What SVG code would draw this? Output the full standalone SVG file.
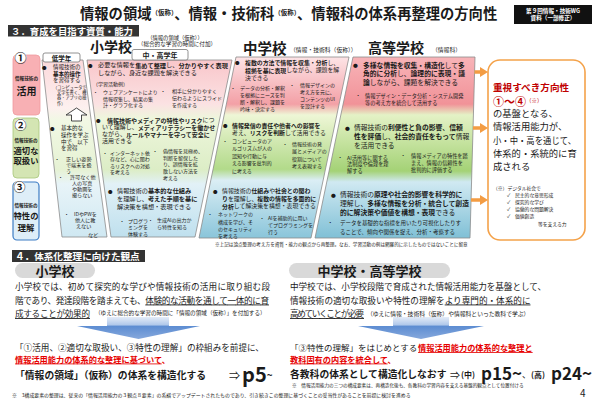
<svg xmlns="http://www.w3.org/2000/svg" width="600" height="400" viewBox="0 0 600 400">
<defs>
<style>
text{font-family:"Noto Sans CJK JP","Noto Sans",sans-serif;dominant-baseline:central;fill:#1a1a1a}
.b{font-weight:700}
.r{fill:#e60000}
.dr{fill:#c00000}
.w{fill:#fff}
.u{text-decoration:underline}
.m{text-anchor:middle}
.col{stroke:#8c8c8c;stroke-width:0.8}
.tab{fill:#fff;stroke:#777;stroke-width:0.8}
.oarr{fill:#f39c43}
.barr{fill:url(#gArrow)}
.pill{fill:#d9d9d9}
.band{fill:#333}
</style>
<linearGradient id="gLow" gradientUnits="userSpaceOnUse" x1="0" y1="60" x2="0" y2="237">
<stop offset="0" stop-color="#fbd9db"/><stop offset="0.27" stop-color="#fdf0ef"/><stop offset="0.34" stop-color="#f1f8e4"/><stop offset="0.62" stop-color="#e6f2d4"/><stop offset="0.70" stop-color="#e8f4f8"/><stop offset="1" stop-color="#cfe8f2"/>
</linearGradient>
<linearGradient id="gMid" gradientUnits="userSpaceOnUse" x1="0" y1="60" x2="0" y2="237">
<stop offset="0" stop-color="#f9c6ca"/><stop offset="0.25" stop-color="#fbe2e3"/><stop offset="0.33" stop-color="#eef6dc"/><stop offset="0.62" stop-color="#dcedc6"/><stop offset="0.70" stop-color="#e2f1f7"/><stop offset="1" stop-color="#bfe0ee"/>
</linearGradient>
<linearGradient id="gJ" gradientUnits="userSpaceOnUse" x1="0" y1="57" x2="0" y2="238">
<stop offset="0" stop-color="#fde4e6"/><stop offset="0.26" stop-color="#f3a0a6"/><stop offset="0.32" stop-color="#eef6d6"/><stop offset="0.62" stop-color="#b2da8a"/><stop offset="0.68" stop-color="#dbeef5"/><stop offset="1" stop-color="#8ac5da"/>
</linearGradient>
<linearGradient id="gH" gradientUnits="userSpaceOnUse" x1="0" y1="57" x2="0" y2="238">
<stop offset="0" stop-color="#f8b4b8"/><stop offset="0.26" stop-color="#f19298"/><stop offset="0.32" stop-color="#e4f2c6"/><stop offset="0.63" stop-color="#a4d276"/><stop offset="0.69" stop-color="#d0e9f2"/><stop offset="1" stop-color="#80c0d6"/>
</linearGradient>
<linearGradient id="gArrow" x1="0" y1="0" x2="0" y2="1">
<stop offset="0" stop-color="#e4ecf8"/><stop offset="0.36" stop-color="#b0c8ea"/><stop offset="0.42" stop-color="#5d8dd2"/><stop offset="1" stop-color="#86a8dc"/>
</linearGradient>
</defs>
<rect width="600" height="400" fill="#fff"/>

<g id="title">
<text x="80" y="12" class="b" font-size="14.3">情報の領域<tspan font-size="6.5">（仮称）</tspan>、情報・技術科<tspan font-size="6.5">（仮称）</tspan>、情報科の体系再整理の方向性</text>
<rect x="514" y="5" width="78" height="19" fill="#111"/>
<text x="553" y="10.5" class="b w m" font-size="5.6">第９回情報・技術WG</text>
<text x="553" y="18" class="b w m" font-size="5.6">資料（一部修正）</text>
</g>

<g id="sec3">
<rect x="8" y="25" width="131" height="11.5" class="band"/>
<text x="11" y="30.8" class="b w" font-size="9.4">３．育成を目指す資質・能力</text>
<text x="90" y="45.5" class="b" font-size="14">小学校</text>
<text x="175" y="38" class="m" font-size="5.3">（情報の領域（仮称））</text>
<text x="177" y="44.3" class="m" font-size="5.6">（総合的な学習の時間に付加）</text>
<text x="243" y="47" class="b" font-size="14.5">中学校</text>
<text x="290" y="49" font-size="5.8">（情報・技術科（仮称））</text>
<text x="368" y="46.5" class="b" font-size="14">高等学校</text>
<text x="432" y="49" font-size="5.8">（情報科）</text>
</g>

<g id="box-katsuyo">
<rect x="13" y="55" width="27" height="60" rx="4" fill="#f8b0b4" stroke="#ef9aa0" stroke-width="0.8"/>
<circle cx="20.5" cy="57" r="6" fill="#fff"/>
<text x="20.5" y="57" class="b m" font-size="12">①</text>
<text x="26.5" y="78" class="b m" font-size="4.6">情報技術の</text>
<text x="26.5" y="90" class="b m" font-size="10">活用</text>
</g>
<g id="box-toriatsukai">
<rect x="13" y="118" width="26" height="60" rx="4" fill="#d4e5b3" stroke="#a8c67c" stroke-width="0.8"/>
<circle cx="20.5" cy="124.5" r="6" fill="#fff"/>
<text x="20.5" y="124.5" class="b m" font-size="12">②</text>
<text x="26" y="140" class="b m" font-size="4.6">情報技術の</text>
<text x="26" y="150" class="b m" font-size="8.3">適切な</text>
<text x="26" y="160" class="b m" font-size="8.3">取扱い</text>
</g>
<g id="box-rikai">
<rect x="13" y="182" width="26" height="58" rx="4" fill="#deeef8" stroke="#3c7cc4" stroke-width="1.2"/>
<circle cx="19.5" cy="186.5" r="6" fill="#fff"/>
<text x="19.5" y="186.5" class="b m" font-size="12">③</text>
<text x="26" y="205" class="b m" font-size="4.6">情報技術の</text>
<text x="26" y="215" class="b m" font-size="8.3">特性の</text>
<text x="26" y="227" class="b m" font-size="8.3">理解</text>
</g>

<g id="col-low" font-size="5.5">
<polygon class="col" points="42,60 83,60 107,237 62,237" fill="url(#gLow)"/>
<rect class="tab" x="43" y="53" width="37" height="9" rx="2"/>
<text x="61.5" y="57.5" class="b m" font-size="6.5">低学年</text>
<text x="42" y="67" font-size="4.5">●</text>
<text x="53" y="67">情報技術の</text>
<text x="53" y="73.5" class="b">基本的操作</text>
<text x="53" y="80">を習得する</text>
<text x="53" y="87" font-size="4.2">（コンピュータで</text>
<text x="57" y="92" font-size="4.2">文字を書く、機</text>
<text x="57" y="97" font-size="4.2">器・アプリの操</text>
<text x="57" y="102.5" font-size="4.2">作）</text>
<text x="50" y="128" font-size="4.5">●</text>
<text x="61" y="128">基本的な</text>
<text x="61" y="135">操作を学ぶ</text>
<text x="61" y="141.5">中で、以下</text>
<text x="61" y="148">を習得</text>
<g font-size="5.1">
<text x="54.5" y="158">・</text>
<text x="66" y="158">正しい姿勢</text>
<text x="66" y="164">で端末を扱</text>
<text x="66" y="170">う</text>
<text x="58" y="176">・</text>
<text x="70" y="176">許可なく他</text>
<text x="72" y="182">人の写真</text>
<text x="72" y="188">や動画を</text>
<text x="72" y="194">撮らない</text>
<text x="64" y="213">・</text>
<text x="74" y="213">IDやPWを</text>
<text x="75" y="219">他人に教</text>
<text x="76" y="225">えない</text>
<text x="88" y="234.5">など</text>
</g>
</g>

<g id="col-midhigh" font-size="6.2">
<polygon class="col" points="87,60 232,60 195,237 111,237" fill="url(#gMid)"/>
<rect class="tab" x="132" y="49.5" width="56" height="10.5" rx="2"/>
<text x="160" y="54.8" class="b m" font-size="7">中・高学年</text>
<text x="88" y="64.5" font-size="4.5">●</text>
<text x="98" y="64.5">必要な情報を<tspan class="b">集めて整理</tspan>し、<tspan class="b">分かりやすく表現</tspan></text>
<text x="98" y="72">しながら、身近な課題を解決できる</text>
<g font-size="5">
<text x="93" y="83">（学習活動例）</text>
<text x="93" y="91.5">・</text>
<text x="103" y="91.5">ウェブアンケートにより</text>
<text x="103" y="98">情報収集し、結果の集</text>
<text x="103" y="104.5">計・グラフ化する</text>
<text x="160.5" y="90">・</text>
<text x="172" y="90">相手に分かりやすく</text>
<text x="172" y="97">伝わるようにスライド</text>
<text x="172" y="104">を作成する</text>
</g>
<g font-size="6">
<text x="96" y="119.5" font-size="4.5">●</text>
<text x="107" y="119.5"><tspan class="b">情報技術やメディアの特性やリスク</tspan>につ</text>
<text x="102" y="126.5">いて理解し、<tspan class="b">メディアリテラシーを働かせ</tspan></text>
<text x="102" y="133.5">ながら、<tspan class="b">ルールやマナーを守って安全に</tspan></text>
<text x="102" y="140.5">活用できる</text>
</g>
<g font-size="5">
<text x="102.5" y="152">・</text>
<text x="110" y="152">インターネット依</text>
<text x="110" y="158.5">存など、心に関わ</text>
<text x="110" y="165">るリスクへの対処</text>
<text x="110" y="171.5">を考える</text>
<text x="152.5" y="150">・</text>
<text x="163" y="150">偽情報を見極め、</text>
<text x="163" y="157">判断を留保した</text>
<text x="163" y="163.5">り、誤情報を拡</text>
<text x="163" y="170">散しない方法を</text>
<text x="163" y="177">考える</text>
</g>
<text x="108" y="190.5" font-size="4.5">●</text>
<text x="117" y="190">情報技術の<tspan class="b">基本的な仕組み</tspan></text>
<text x="117" y="198">を理解し、<tspan class="b">考えた手順を基に</tspan></text>
<text x="117" y="206">解決策を構想・表現できる</text>
<g font-size="5">
<text x="119.5" y="220">・</text>
<text x="128" y="220">プログラ</text>
<text x="128" y="226.5">ミングを</text>
<text x="128" y="233">体験する</text>
<text x="148" y="219">・</text>
<text x="157" y="219.5">生成AIの出力か</text>
<text x="157" y="226.5">ら特性を知る</text>
</g>
</g>

<g id="col-jhs" font-size="5.9">
<polygon class="col" points="236,57 349,57 311,238 199,238" fill="url(#gJ)"/>
<text x="235" y="62" font-size="4.5">●</text>
<text x="245" y="62"><tspan class="b">複数の方法で情報を収集・分析</tspan>し、</text>
<text x="245" y="69.5"><tspan class="b">根拠を基に表現</tspan>しながら、課題を解</text>
<text x="245" y="77">決できる</text>
<g font-size="5">
<text x="230.5" y="87">・</text>
<text x="240" y="87">データの分析・解釈</text>
<text x="240" y="94">を根拠にニーズを判</text>
<text x="240" y="101">断・解釈し、課題を</text>
<text x="240" y="108">吟味・決定する</text>
<text x="289.5" y="84">・</text>
<text x="300" y="84">情報デザインの</text>
<text x="300" y="91">考え方を元に、</text>
<text x="300" y="98">コンテンツのUI</text>
<text x="300" y="105">を設計する</text>
</g>
<text x="223" y="125" font-size="4.5">●</text>
<text x="232" y="125" class="b">情報発信の責任や他者への影響を</text>
<text x="232" y="132">考え、<tspan class="b">リスクを判断</tspan>して活用できる</text>
<g font-size="5">
<text x="222.5" y="140">・</text>
<text x="232" y="140">コンピュータのア</text>
<text x="232" y="147.5">ルゴリズムが人の</text>
<text x="232" y="155">認知や行動に与</text>
<text x="232" y="162.5">える影響を批判的</text>
<text x="232" y="170">に考える</text>
<text x="282.5" y="143">・</text>
<text x="292" y="143">情報技術の発</text>
<text x="292" y="150.5">展とメディアの</text>
<text x="292" y="158">役割について</text>
<text x="292" y="165">考え表現する</text>
</g>
<text x="213" y="190.5" font-size="4.5">●</text>
<text x="222" y="190">情報技術の<tspan class="b">仕組み</tspan>や<tspan class="b">社会との関わ</tspan></text>
<text x="222" y="198"><tspan class="b">り</tspan>を理解し、<tspan class="b">複数の情報を多面的に</tspan></text>
<text x="222" y="205.5"><tspan class="b">分析</tspan>して解決策を構想・表現できる</text>
<g font-size="5">
<text x="207.5" y="213.5">・</text>
<text x="218" y="213.5">ネットワークの</text>
<text x="218" y="221">構成を学び、そ</text>
<text x="218" y="228">のセキュリティ</text>
<text x="218" y="235">を考える</text>
<text x="259.5" y="217">・</text>
<text x="268" y="217">AIを補助的に用い</text>
<text x="268" y="224">てプログラミングを</text>
<text x="268" y="231">行う</text>
</g>
</g>

<g id="col-hs" font-size="6.8">
<polygon class="col" points="353,57 475,57 470,238 315,238" fill="url(#gH)"/>
<text x="353" y="64.5" font-size="4.8">●</text>
<text x="363" y="64.5"><tspan class="b">多様な情報を収集・構造化</tspan>して<tspan class="b">多</tspan></text>
<text x="363" y="73"><tspan class="b">角的に分析</tspan>し、<tspan class="b">論理的に表現・議</tspan></text>
<text x="363" y="82"><tspan class="b">論</tspan>しながら、課題を解決できる</text>
<g font-size="5.2">
<text x="355.5" y="95">・</text>
<text x="365" y="95">情報デザイン・データ分析・システム開発</text>
<text x="365" y="102">等の考え方を統合して活用する</text>
</g>
<text x="345" y="127" font-size="4.8">●</text>
<text x="354" y="127">情報技術の<tspan class="b">利便性と負の影響、信頼</tspan></text>
<text x="354" y="136"><tspan class="b">性を評価</tspan>し、<tspan class="b">社会的責任をもって</tspan>情報</text>
<text x="354" y="145">を活用できる</text>
<g font-size="5.2">
<text x="337.5" y="157">・</text>
<text x="347" y="157">AI活用等に関する</text>
<text x="347" y="163.5">法制度や倫理を理</text>
<text x="347" y="170">解する</text>
<text x="400.5" y="155">・</text>
<text x="411" y="155">情報メディアの特性を踏</text>
<text x="411" y="162">まえ、情報の信頼性を</text>
<text x="411" y="169.5">批判的に評価する</text>
</g>
<text x="331" y="194" font-size="4.8">●</text>
<text x="340" y="194">情報技術の<tspan class="b">原理や社会的影響を科学的に</tspan></text>
<text x="340" y="203">理解し、<tspan class="b">多様な情報を分析・統合して創造</tspan></text>
<text x="340" y="212"><tspan class="b">的に解決策や価値を構想・表現</tspan>できる</text>
<g font-size="5.5">
<text x="327.5" y="223">・</text>
<text x="340" y="223">データを基礎的な指標を用いたり可視化したりす</text>
<text x="340" y="231.5">ることで、傾向や関係を捉え、分析・考察する</text>
</g>
</g>

<g id="box-direction">
<rect x="488" y="60" width="97" height="180" rx="12" fill="#fff" stroke="#f4a24a" stroke-width="1.6"/>
<text x="493" y="87" class="b dr" font-size="9.6">重視すべき方向性</text>
<text x="493" y="101" class="b dr" font-size="11">①～④<tspan font-size="5.5" font-weight="400">（※）</tspan></text>
<g font-size="9.3">
<text x="493" y="112.5">の基盤となる、</text>
<text x="493" y="126">情報活用能力が、</text>
<text x="493" y="139.5" textLength="83" lengthAdjust="spacingAndGlyphs">小・中・高を通じて、</text>
<text x="493" y="152.5">体系的・系統的に育</text>
<text x="493" y="165.5">成される</text>
</g>
<g font-size="4.8">
<text x="493" y="187">（※）デジタル社会で</text>
<text x="507" y="194">✓</text><text x="515" y="194">民主的な意思形成</text>
<text x="507" y="201">✓</text><text x="515" y="201">探究的な学び</text>
<text x="507" y="208">✓</text><text x="515" y="208">協働的な問題解決</text>
<text x="507" y="215">✓</text><text x="515" y="215">価値創造</text>
<text x="538" y="223">等を支える力</text>
</g>
</g>

<g id="connectors">
<path class="oarr" d="M474.5,70.2 H480 V67 L488,72 L480,77 V73.8 H474.5 Z"/>
<path class="oarr" d="M473,126.2 H480 V123 L488,128 L480,133 V129.8 H473 Z"/>
<path class="oarr" d="M471,198.2 H480 V195 L488,200 L480,205 V201.8 H471 Z"/>
<polygon class="barr" points="107,317 169,317 169,326 200,326 138.5,339 77,326 107,326"/>
<polygon class="barr" points="393,317 449,317 449,326 484,326 421,339 358,326 393,326"/>
<polygon points="76.5,108 87,115 81.5,115 81.5,121 71.5,121 71.5,115 66,115" fill="#fff" stroke="#333" stroke-width="0.9"/>
</g>

<text x="215" y="244" font-size="4.6">※上記は論点整理の考え方を資質・能力の観点から再整理。なお、学習活動の例は網羅的に示したものではないことに留意</text>

<g id="sec4">
<rect x="12" y="250" width="133" height="12" class="band"/>
<text x="15" y="256" class="b w" font-size="9.6">４．体系化整理に向けた観点</text>
</g>

<g id="elem">
<rect x="15" y="263" width="80" height="15" rx="7.5" class="pill"/>
<text x="55" y="270.5" class="b m" font-size="13">小学校</text>
<g font-size="8.6">
<text x="15" y="285.5" textLength="255">小学校では、初めて探究的な学びや情報技術の活用に取り組む段</text>
<text x="15" y="299.5" textLength="254">階であり、発達段階を踏まえても、<tspan class="u">体験的な活動を通して一体的に育</tspan></text>
<text x="15" y="313" class="u" textLength="75">成することが効果的</text>
</g>
<text x="95" y="313" font-size="5.6">（ゆえに総合的な学習の時間に「情報の領域（仮称）」を付加する）</text>
<text x="15" y="347" font-size="8.6">「①活用、②適切な取扱い、③特性の理解」の枠組みを前提に、</text>
<text x="15" y="358.5" font-size="8.2" class="b r"><tspan class="u">情報活用能力の体系的な整理に基づいて</tspan>、</text>
<text x="15" y="375" font-size="9.8" class="b">「情報の領域」（仮称）の体系を構造化する</text>
<text x="229" y="375" font-size="11">⇒</text>
<text x="242" y="373.5" font-size="20" class="b">p5<tspan font-size="10">~</tspan></text>
</g>

<g id="jhs-hs">
<rect x="289" y="263" width="161" height="15" rx="7.5" class="pill"/>
<text x="369.5" y="270.5" class="b m" font-size="13">中学校・高等学校</text>
<g font-size="8.6">
<text x="290" y="285.5" textLength="256">中学校では、小学校段階で育成された情報活用能力を基盤として、</text>
<text x="290" y="299.5">情報技術の適切な取扱いや特性の理解を<tspan class="u">より専門的・体系的に</tspan></text>
<text x="290" y="313" class="u" textLength="74">高めていくことが必要</text>
</g>
<text x="367" y="313" font-size="5.8">（ゆえに情報・技術科（仮称）や情報科といった教科で学ぶ）</text>
<text x="290" y="347" font-size="8.5">「③特性の理解」をはじめとする</text>
<text x="418" y="347" font-size="8.2" class="b r u">情報活用能力の体系的な整理と</text>
<text x="290" y="358.5" font-size="8.2" class="b r"><tspan class="u">教科固有の内容を統合して</tspan>、</text>
<text x="290" y="374" font-size="9.8" class="b">各教科の体系として構造化しなおす</text>
<text x="450" y="374" font-size="10">⇒</text>
<text x="461" y="374" font-size="8" class="b">(中)</text>
<text x="481" y="372.5" font-size="17" class="b">p15~</text>
<text x="522" y="374" font-size="9">、</text>
<text x="531" y="374" font-size="8" class="b">(高)</text>
<text x="551" y="372.5" font-size="17" class="b">p24~</text>
<text x="292" y="385" font-size="4.65">※　情報活用能力の三つの構成要素は、再構造化後も、各教科の学習内容を支える基盤的観点として位置付ける</text>
</g>

<text x="12" y="394.5" font-size="4.9">※　3構成要素の整理は、従来の「情報活用能力の３観点８要素」の系譜でアップデートされたものであり、引き続きこの整理に基づくことの妥当性があることを前提に検討を進める</text>
<text x="580" y="392" font-size="10">4</text>
</svg>
